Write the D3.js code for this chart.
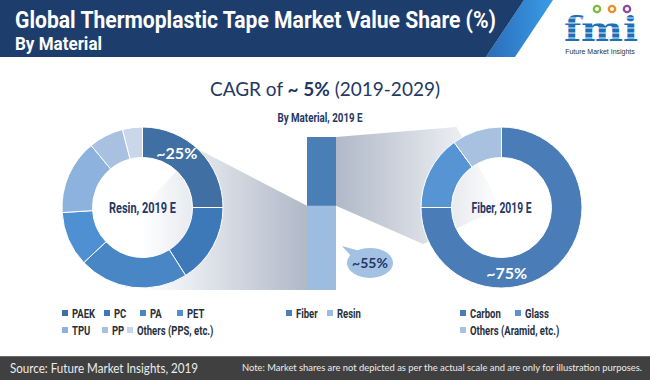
<!DOCTYPE html>
<html>
<head>
<meta charset="utf-8">
<script src="https://cdn.jsdelivr.net/npm/d3@7"></script>
<style>
  html, body { margin: 0; padding: 0; background: #fff; }
  svg { display: block; }
  .cond { font-family: "Roboto", "Liberation Sans", sans-serif; }
  .calib { font-family: "Lato", "Open Sans", "Noto Sans", sans-serif; }
</style>
</head>
<body>
<div id="chart"></div>
<script>
// data
var materialCats = ["Fiber", "Resin"];
var materialVals = [45, 55];

var resinCats = ["PAEK", "PC", "PA", "PET", "TPU", "PP", "Others (PPS, etc.)"];
var resinVals = [25, 16, 22, 11, 15, 7, 4];

var fiberCats = ["Carbon", "Glass", "Others (Aramid, etc.)"];
var fiberVals = [75, 15, 10];

var resinColors = ["#3f6fa3", "#3d79b9", "#4886c6", "#4f90d2", "#8db2dd", "#a9c1e1", "#cad7ea"];
var fiberColors = ["#4a7db8", "#5794d3", "#a8c1e1"];
var materialColors = ["#4a7fb5", "#9dbde0"];

// legend layout (x of marker, row)
var resinLegendPos = [[62, 0], [104, 0], [140, 0], [177, 0], [62, 1], [102, 1], [127, 1]];
var materialLegendPos = [[286, 0], [327, 0]];
var fiberLegendPos = [[460, 0], [515, 0], [460, 1]];

var W = 650, H = 380;
var navy = "#1f3864";

var svg = d3.select("#chart").append("svg")
  .attr("width", W).attr("height", H);

// narrow-font look: squeeze the text horizontally
function squeeze(sel, f) {
  sel.each(function() {
    var l = this.getComputedTextLength();
    d3.select(this).attr("textLength", l * f).attr("lengthAdjust", "spacingAndGlyphs");
  });
}

var defs = svg.append("defs");
var lg = defs.append("linearGradient").attr("id", "wedgeL").attr("x1", 0).attr("x2", 1).attr("y1", 0).attr("y2", 0);
lg.append("stop").attr("offset", "0%").attr("stop-color", "#ffffff");
lg.append("stop").attr("offset", "100%").attr("stop-color", "#b0b9c8");
var rg = defs.append("linearGradient").attr("id", "wedgeR").attr("x1", 0).attr("x2", 1).attr("y1", 0).attr("y2", 0);
rg.append("stop").attr("offset", "0%").attr("stop-color", "#b0b9c8");
rg.append("stop").attr("offset", "100%").attr("stop-color", "#ffffff");
var sg = defs.append("linearGradient").attr("id", "stripe").attr("x1", 0).attr("x2", 1).attr("y1", 0).attr("y2", 0);
sg.append("stop").attr("offset", "0%").attr("stop-color", "#2a6db8");
sg.append("stop").attr("offset", "100%").attr("stop-color", "#3a9be8");

// header
svg.append("polygon").attr("points", "524,0 553,0 515,57 486,57").attr("fill", "url(#stripe)");
svg.append("polygon").attr("points", "0,0 524,0 486,57 0,57").attr("fill", "#1d3d6c");

svg.append("text").attr("class", "cond")
  .attr("x", 15).attr("y", 28)
  .attr("fill", "#fff").attr("font-size", 23).attr("font-weight", "bold")
  .attr("textLength", 481).attr("lengthAdjust", "spacingAndGlyphs")
  .text("Global Thermoplastic Tape Market Value Share (%)");
svg.append("text").attr("class", "cond")
  .attr("x", 15).attr("y", 50)
  .attr("fill", "#fff").attr("font-size", 19).attr("font-weight", "bold")
  .attr("textLength", 87).attr("lengthAdjust", "spacingAndGlyphs")
  .text("By Material");

// logo
var logo = svg.append("g");
logo.append("text").attr("x", 601).attr("y", 41)
  .attr("text-anchor", "middle")
  .attr("font-family", "DejaVu Serif, serif").attr("font-weight", "bold")
  .attr("font-size", 34).attr("fill", "#1b70b8")
  .attr("textLength", 74).attr("lengthAdjust", "spacingAndGlyphs")
  .text("fmi");
[18, 23, 28, 33, 38].forEach(function(y) {
  logo.append("line").attr("x1", 562).attr("x2", 642).attr("y1", y).attr("y2", y)
    .attr("stroke", "#fff").attr("stroke-width", 0.9);
});
[["#7dbb3c", 597], ["#f08a24", 612], ["#8a4a9e", 627]].forEach(function(c) {
  logo.append("circle").attr("cx", c[1]).attr("cy", 9).attr("r", 4.3).attr("fill", c[0]);
  logo.append("circle").attr("cx", c[1]).attr("cy", 9).attr("r", 2).attr("fill", "#fff");
});
logo.append("text").attr("x", 600).attr("y", 54).attr("text-anchor", "middle")
  .attr("font-family", "Liberation Sans, Arial, sans-serif").attr("font-size", 7)
  .attr("fill", "#333").text("Future Market Insights");

// CAGR heading
var cagr = svg.append("text").attr("class", "calib")
  .attr("x", 325).attr("y", 96).attr("text-anchor", "middle")
  .attr("font-size", 19).attr("fill", navy);
cagr.append("tspan").text("CAGR of ");
cagr.append("tspan").attr("font-weight", "bold").text("~ 5%");
cagr.append("tspan").text(" (2019-2029)");

svg.append("text").attr("class", "cond")
  .attr("x", 320).attr("y", 122).attr("text-anchor", "middle")
  .attr("font-size", 12).attr("font-weight", "bold").attr("fill", navy)
  .attr("textLength", 85).attr("lengthAdjust", "spacingAndGlyphs")
  .text("By Material, 2019 E");

// scales
var barX = d3.scaleBand().domain(["2019 E"]).range([307, 336]).padding(0);
var barY = d3.scaleLinear().domain([0, 100]).range([290, 137]);

var stack = d3.stack().keys(materialCats.slice().reverse());
var stackRow = {};
materialCats.forEach(function(c, i) { stackRow[c] = materialVals[i]; });
var series = stack([stackRow]);
var segOf = {};
series.forEach(function(s) { segOf[s.key] = s[0]; });

var rOut = 80.5, rIn = 50;
var leftC = [142.5, 207.5], rightC = [501.5, 207.5];

// connector wedges
function polar(c, r, a) { return [c[0] + r * Math.sin(a), c[1] - r * Math.cos(a)]; }
var resinSeg = segOf["Resin"], fiberSeg = segOf["Fiber"];
var bx1 = barX("2019 E"), bx2 = bx1 + barX.bandwidth();
var lt = polar(leftC, rOut, 43 * Math.PI / 180);
svg.append("polygon")
  .attr("points", [
    lt, [bx1, barY(resinSeg[1])], [bx1, barY(resinSeg[0])],
    [leftC[0], barY(resinSeg[0])], leftC
  ].map(function(p) { return p.join(","); }).join(" "))
  .attr("fill", "url(#wedgeL)");
var rb = polar(rightC, rOut + 6, -115 * Math.PI / 180);
svg.append("polygon")
  .attr("points", [
    [bx2, barY(fiberSeg[1])], [rightC[0] - 45, rightC[1] - rOut], rightC, rb,
    [bx2, barY(fiberSeg[0])]
  ].map(function(p) { return p.join(","); }).join(" "))
  .attr("fill", "url(#wedgeR)");

// stacked bar
svg.append("g").selectAll("rect")
  .data(series)
  .join("rect")
  .attr("x", bx1)
  .attr("width", barX.bandwidth())
  .attr("y", function(s) { return barY(s[0][1]); })
  .attr("height", function(s) { return barY(s[0][0]) - barY(s[0][1]); })
  .attr("fill", function(s) { return materialColors[materialCats.indexOf(s.key)]; });

// donuts
var pie = d3.pie().sort(null).value(function(d) { return d; });
var arc = d3.arc().innerRadius(rIn).outerRadius(rOut);

function donut(center, vals, colors, title, tw) {
  var g = svg.append("g").attr("transform", "translate(" + center[0] + "," + center[1] + ")");
  var arcs = pie(vals);
  g.selectAll("path").data(arcs).join("path")
    .attr("d", arc)
    .attr("fill", function(d, i) { return colors[i]; })
    .attr("stroke", "#fff").attr("stroke-width", 1);
  g.append("text").attr("class", "cond")
    .attr("y", 5).attr("text-anchor", "middle")
    .attr("font-size", 14).attr("font-weight", "bold").attr("fill", navy)
    .attr("textLength", tw).attr("lengthAdjust", "spacingAndGlyphs")
    .text(title);
  return { g: g, arcs: arcs };
}

var left = donut(leftC, resinVals, resinColors, "Resin, 2019 E", 67);
var right = donut(rightC, fiberVals, fiberColors, "Fiber, 2019 E", 60);

function sliceLabel(d, frac, r, txt, host) {
  var a = d.startAngle + frac * (d.endAngle - d.startAngle);
  host.g.append("text").attr("class", "calib")
    .attr("x", r * Math.sin(a)).attr("y", -r * Math.cos(a) + 6)
    .attr("text-anchor", "middle")
    .attr("font-size", 16).attr("font-weight", "bold").attr("fill", "#fff")
    .text(txt);
}
sliceLabel(left.arcs[0], 0.36, 64, "~" + resinVals[0] + "%", left);
sliceLabel(right.arcs[0], 0.65, 66, "~" + fiberVals[0] + "%", right);

// ~55% callout on the resin segment
var cy = (barY(resinSeg[0]) + barY(resinSeg[1])) / 2 + 15;
var cx = bx2 + 34;
svg.append("path")
  .attr("d", "M" + (cx - 18) + "," + (cy - 6) + " L" + (bx2 + 6) + "," + (cy - 17) + " L" + (cx - 10) + "," + (cy - 12) + "Z")
  .attr("fill", "#a3c1e3");
svg.append("ellipse").attr("cx", cx).attr("cy", cy).attr("rx", 23).attr("ry", 15)
  .attr("fill", "#a3c1e3");
svg.append("text").attr("class", "calib")
  .attr("x", cx).attr("y", cy + 5).attr("text-anchor", "middle")
  .attr("font-size", 14).attr("font-weight", "bold").attr("fill", navy)
  .text("~" + materialVals[1] + "%");

// legends
function legend(cats, colors, pos) {
  var rowY = [313, 330];
  var g = svg.append("g");
  cats.forEach(function(c, i) {
    var x = pos[i][0], y = rowY[pos[i][1]];
    g.append("rect").attr("x", x).attr("y", y - 3).attr("width", 6).attr("height", 6).attr("fill", colors[i]);
    g.append("text").attr("class", "cond")
      .attr("x", x + 10).attr("y", y + 4.5)
      .attr("font-size", 12.5).attr("font-weight", "bold").attr("fill", "#27303d")
      .text(c)
      .call(squeeze, 0.76);
  });
}
legend(resinCats, resinColors, resinLegendPos);
legend(materialCats, materialColors, materialLegendPos);
legend(fiberCats, fiberColors, fiberLegendPos);

// footer
svg.append("rect").attr("x", 0).attr("y", 356).attr("width", W).attr("height", H - 356).attr("fill", "#404040");
svg.append("line").attr("x1", 0).attr("x2", W).attr("y1", 356.5).attr("y2", 356.5).attr("stroke", "#6a6a6a");
svg.append("text").attr("class", "calib")
  .attr("x", 10).attr("y", 373).attr("font-size", 14).attr("fill", "#ececec")
  .attr("textLength", 188).attr("lengthAdjust", "spacingAndGlyphs")
  .text("Source: Future Market Insights, 2019");
svg.append("text").attr("class", "calib")
  .attr("x", 242).attr("y", 371).attr("font-size", 9).attr("fill", "#ececec")
  .attr("textLength", 400).attr("lengthAdjust", "spacingAndGlyphs")
  .text("Note: Market shares are not depicted as per the actual scale and are only for illustration purposes.");
</script>
</body>
</html>
